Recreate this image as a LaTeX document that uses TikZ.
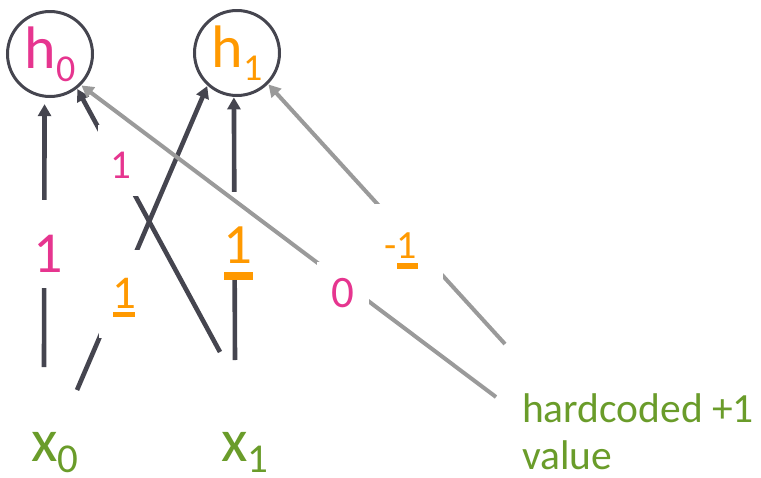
\documentclass[tikz,border=0pt]{standalone}
\usepackage{fontspec}
\setmainfont{Carlito}
\usetikzlibrary{arrows.meta}
\definecolor{pinkc}{HTML}{E6358F}
\definecolor{orangec}{HTML}{FF9900}
\definecolor{greenc}{HTML}{6A9C2A}
\definecolor{darkc}{HTML}{45454F}
\definecolor{grayc}{HTML}{9A9A9A}
\newcommand\fs[1]{\fontsize{#1}{#1}\selectfont}
\newcommand\ulbar[4]{\ooalign{\hfil#4\hfil\cr\hfil\rule[-\dimexpr#2+#3\relax]{#1}{#3}\hfil\cr}}
\begin{document}
\begin{tikzpicture}[x=1pt,y=-1pt,
 unit/.style={circle, draw=darkc, line width=3pt, minimum size=85pt, inner sep=0pt, outer sep=2pt},
 var/.style={text=greenc, inner sep=0pt, anchor=base},
 wdark/.style={draw=darkc, line width=4.6pt, -{Triangle[length=12pt,width=13pt]}},
 wgray/.style={draw=grayc, line width=4pt, -{Triangle[length=12pt,width=13pt]}},
 lbl/.style={fill=white, inner sep=0pt, anchor=base},
]
\useasboundingbox (0,0) rectangle (761,477);
% units
\node[unit] (h0) at (50,54) {\color{pinkc}{\fs{60}h}\raisebox{-13pt}{\fs{38}0}};
\node[unit] (h1) at (237,53) {\color{orangec}{\fs{60}h}\raisebox{-13pt}{\fs{38}1}};
% inputs
\node[var] (x0) at (55,461) {{\fs{61}x}\raisebox{-11pt}{\fs{41}0}};
\node[var] (x1) at (245,461) {{\fs{61}x}\raisebox{-11pt}{\fs{41}1}};
\node[text=greenc, anchor=base west, align=left, inner sep=0pt, font=\fontsize{41.5}{47}\selectfont] (hc) at (522,469) {hardcoded +1\\value};
% free ends of connectors
\coordinate (s00) at (44,367);
\coordinate (s01) at (77,390);
\coordinate (s10) at (220,352);
\coordinate (s11) at (235,360);
\coordinate (sb0) at (496,397);
\coordinate (sb1) at (505,344);
% dark connectors
\draw[wdark, shorten >=6pt] (s00) -- (h0.-97);
\draw[wdark] (s10) -- (h0.-52);
\draw[wdark] (s01) -- (h1.-132);
\draw[wdark] (s11) -- (h1.-94);
% dark labels
\node[lbl, text height=72pt, text depth=16pt, minimum width=30pt, text=pinkc, font=\fs{58}] (wa) at (48,272) {1};
\node[lbl, text height=53pt, text depth=18pt, minimum width=46pt, text=pinkc, font=\fs{41}] (wb) at (121,178) {1};
\node[lbl, text height=58pt, text depth=30pt, minimum width=50pt, text=orangec, font=\fs{47}] (wc) at (124,308) {\ulbar{22pt}{4pt}{5pt}{1}};
\node[lbl, text height=71pt, text depth=15pt, minimum width=40pt, text=orangec, font=\fs{57}] (wd) at (238,263) {\ulbar{29pt}{9pt}{8pt}{1}};
% gray connectors
\draw[wgray] (sb0) -- (h0.-45);
\draw[wgray] (sb1) -- (h1.-45);
% gray labels
\node[lbl, text height=45pt, text depth=9pt, minimum width=52pt, text=pinkc, font=\fs{45}] (we) at (343,307) {0};
\node[lbl, text height=54pt, text depth=24pt, minimum width=84pt, text=orangec, font=\fs{40}] (wf) at (401,258) {-\ulbar{21pt}{5pt}{6pt}{1}};
\end{tikzpicture}
\end{document}
